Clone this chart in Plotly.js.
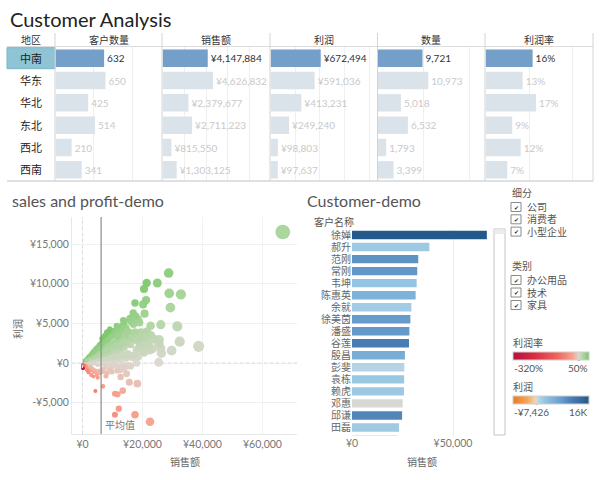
<!DOCTYPE html>
<html><head><meta charset="utf-8">
<script src="https://cdn.plot.ly/plotly-3.0.1.min.js"></script>
<style>html,body{margin:0;padding:0;background:#fff}#chart{width:600px;height:480px}</style>
</head><body><div id="chart"></div>
<script>
// ---------------- Table data ----------------
const tableHeaders = ['地区','客户数量','销售额','利润','数量','利润率'];
const regions = ['中南','华东','华北','东北','西北','西南'];
const customerCount = [632,650,425,514,210,341];
const salesByRegion = [4147884,4626832,2379677,2711223,815550,1303125];
const profitByRegion = [672494,591036,413231,249240,98803,97637];
const quantityByRegion = [9721,10973,5018,6532,1793,3399];
const selectedRegion = '中南';

// ---------------- Scatter: one point per customer [sales, profit] ----------------
const customerPoints = [
 [66750,16540],[28700,11360],[21400,10100],[24950,10100],[28900,8800],[32800,8670],[20500,9340],[21200,7950],
 [17500,7580],[20200,7400],[29300,6990],[20700,6230],[16900,6310],[15800,5640],[16300,5220],[26100,4840],
 [31600,4630],[22700,4710],[13600,5390],[11400,4710],[32400,2690],[38700,2100],[29700,1560],[26100,1850],
 [25600,2950],[23400,1810],[26300,1220],[25400,84],[18000,0],[15300,-290],[12700,-880],[11600,-970],
 [14700,-1350],[12700,-1770],[15600,-2440],[18300,-2610],[7800,-1640],[5100,-1850],[6800,-2950],[10800,-3870],
 [11700,-3960],[13400,-3490],[4300,-3540],[12100,-5770],[10800,-6520],[17500,-6520],[22500,-7410],
 [18500,5500],[17800,5900],[19000,5100],[17000,4900],[14500,4500],[19500,3900],[21500,4000],[20500,3800],
 [22800,3500],[18500,3700],[16000,3800],[17500,3900],[15000,4100],[12800,4300],[13500,4800],[12000,4400],[14000,5200],
 [24000,3000],[25500,2500],[22000,2500],[21000,2000],[19500,2200],[20500,1300],[22500,1600],[18500,800],
 [16500,700],[14500,600],[12500,400],[10500,300],[9000,100],[7500,50],[16000,-400],[13500,-200],[11000,-100],
 [20000,2800],[21000,3200],[18000,3200],[16500,3100],[15000,3300],[13500,3000],[12000,2900],[11000,2700],
 [1000,100],[1500,150],[2000,250],[2500,300],[3000,350],[3500,400],[4000,500],[4500,600],[5000,650],[5500,750],
 [6000,800],[6500,900],[7000,950],[7500,1000],[8000,1100],[8500,1150],[9000,1250],[9500,1300],[10000,1400],
 [10500,1200],[11000,1500],[11500,1000],[12000,1600],[12500,900],[13000,1800],[13500,1100],[14000,2000],
 [15000,1200],[16000,2300],[17000,1000],[18000,1700],[19000,2100],[20000,1500],[21000,2300],[22000,2000],
 [1200,-50],[2000,-100],[3000,-150],[4000,-100],[5000,-250],[6000,-200],[7000,-150],[8000,-300],[9000,-200],
 [10000,-400],[11000,-250],[12500,-500],[14000,-600],
 [800,200],[1200,300],[1800,450],[2300,600],[2700,700],[3300,850],[3700,900],[4100,1050],[4600,1150],[5100,1300],
 [5500,1400],[6100,1500],[6500,1700],[7100,1800],[7600,1900],[8100,2000],[8600,2100],[9100,2300],[9600,2400],
 [10200,2500],[10800,2600],[11300,2800],[11900,3000],[12500,3100],[13100,3200],[13700,3300],[14200,3000],
 [15200,3500],[16100,3200],[17100,3100],[18100,2800],[19100,3300],
 [600,250],[900,380],[1300,520],[1700,700],[2100,880],[2600,1050],[3100,1300],[3400,1450],[3800,1600],[4300,1850],
 [4700,2000],[5300,2250],[5700,2400],[6200,2600],[6600,2750],[7100,2950],[7700,3150],[8200,3350],[8700,3450],
 [9300,3800],[9700,3950],[10300,4100],[10800,3900],[11200,4200],[11800,4000],[12300,3800],[12600,4600],
 [13200,4100],[13800,4400],[14300,3600],[14800,4000],[6300,3100],[6900,3300],[7400,3500],[8000,3900],[8600,4000],[9100,4300],
 [1100,420],[1600,520],[1900,760],[2400,820],[2800,1150],[3200,1050],[3600,1250],[3900,1400],[4400,1500],[4900,1750],
 [5400,1850],[5900,2050],[6400,2200],[6800,2400],[7300,2500],[7800,2700],[8300,2850],[8800,3000],[9400,3200],
 [9900,3400],[10500,3500],[11100,3600],[11600,3400],[12100,3500],
 [1400,300],[2200,450],[2900,500],[3400,650],[3900,700],[4400,850],[4900,950],[5400,1050],[5900,1100],[6400,1250],
 [6900,1350],[7400,1450],[7900,1550],[8400,1650],[8900,1700],[9400,1850],[9900,1950],[10400,2000],[10900,2100],
 [11400,2200],[11900,2300],[12400,2200],[12900,2400],[13400,2500],[14600,2600],
 [2600,100],[3800,200],[4800,250],[5800,350],[6800,400],[7800,500],[8800,600],[9800,700],[10800,800],[11800,700],
 [13800,900],[15800,1000],
 [400,-120],[700,-250],[1000,-350],[1400,-450],[1800,-600],[2200,-750],[2600,-500],[3000,-950],[3400,-700],
 [3800,-1150],[4200,-900],[4600,-1250],[5200,-1000],[5800,-1300],[6300,-800],[6800,-1100],[7300,-700],
 [8200,-1250],[9000,-850],[9800,-1100],[2000,-1200],[2900,-1500],[3600,-1700],[4800,-1600],[1500,-900],
 [150,-250],[250,-400],[200,-650],[350,-300]
];
const avgSales = 6200;
const scXTickVals = [0,20000,40000,60000];
const scXTickText = ['¥0','¥20,000','¥40,000','¥60,000'];
const scYTickVals = [-5000,0,5000,10000,15000];
const scYTickText = ['-¥5,000','¥0','¥5,000','¥10,000','¥15,000'];

// ---------------- Customer bars ----------------
const customerNames = ['徐婵','郝升','范刚','常刚','韦坤','陈惠英','余就','徐美茵','潘盛','谷莲','殷昌','彭斐','袁栋','赖虎','邓惠','邱谦','田磊','白鹏'];
const customerSales = [66750,38300,32800,32300,32000,31500,29400,28900,28400,28200,26200,25900,25800,25700,25100,24800,23300,22600];
const customerProfit = [16540,2100,8670,8300,2690,5000,1850,7800,8000,11360,5600,800,2300,2200,84,10100,2000,1800];
const barXTickVals = [0,50000];
const barXTickText = ['¥0','¥50,000'];

// ---------------- Filters / legends ----------------
const segments = ['公司','消费者','小型企业'];
const productCategories = ['办公用品','技术','家具'];
const rateRange = [-3.2, 0.5];
const rateRangeLabels = ['-320%','50%'];
const profitRange = [-7426, 16540];
const profitRangeLabels = ['-¥7,426','16K'];

// ---------------- helpers ----------------
const F = "Lato, 'Noto Sans CJK SC', sans-serif";
const X = p => p/600;
const Y = p => 1 - p/480;

const rateScale = [[0,'#b5113f'],[0.3,'#dc2e42'],[0.6,'#f06a5f'],[0.78,'#f7a08b'],[0.865,'#dbd7cf'],[0.93,'#a8d49a'],[1,'#78c766']];
const profitScale = [[0,'#ea7a1e'],[0.18,'#f5a257'],[0.29,'#f4d2ae'],[0.31,'#dcd9d0'],[0.33,'#bcd6e6'],[0.42,'#94c4e1'],[0.6,'#6ea3d0'],[0.75,'#4e82b8'],[1,'#24598b']];

const traces = [];
const layout = {
  width:600, height:480, margin:{l:0,r:0,t:0,b:0},
  paper_bgcolor:'#fff', plot_bgcolor:'rgba(0,0,0,0)',
  font:{family:F, color:'#555', size:10},
  showlegend:false, shapes:[], annotations:[]
};
const ann = (text, x, y, o={}) => layout.annotations.push(Object.assign({
  text, x, y, xref:'paper', yref:'paper', showarrow:false, xanchor:'left', yanchor:'middle',
  font:{family:F, size:10, color:'#555'}}, o));
const line = (x0,y0,x1,y1,color,w=1,dash='solid') => layout.shapes.push({type:'line',xref:'paper',yref:'paper',
  x0:X(x0),y0:Y(y0),x1:X(x1),y1:Y(y1),line:{color,width:w,dash}});

// ---------------- Title ----------------
ann('Customer Analysis', X(8), Y(19), {font:{family:F,size:20,color:'#222'}});

// ---------------- Table ----------------
const colEdges = [7,55,162,270,377.5,485,593];
const rateByRegion = profitByRegion.map((p,i)=>p/salesByRegion[i]);
const tableCols = [
  {vals:customerCount, tmpl:'%{x}', dtick:500},
  {vals:salesByRegion, tmpl:'¥%{x:,}', dtick:2000000},
  {vals:profitByRegion, tmpl:'¥%{x:,}', dtick:330000},
  {vals:quantityByRegion, tmpl:'%{x:,}', dtick:10000},
  {vals:rateByRegion, tmpl:'%{x:.0%}', dtick:0.15}
];
const isSel = regions.map(r => r === selectedRegion);
layout.yaxis = {domain:[Y(181),Y(47)], type:'category', autorange:'reversed', showticklabels:false,
  showgrid:false, zeroline:false, anchor:'x', ticks:''};
tableCols.forEach((c,i) => {
  const ax = i===0 ? 'xaxis' : 'xaxis'+(i+1);
  const xa = i===0 ? 'x' : 'x'+(i+1);
  layout[ax] = {domain:[X(colEdges[i+1]+0.5), X(colEdges[i+2])], range:[0, Math.max(...c.vals)*2.13],
    anchor:'y', showticklabels:false, ticks:'', showgrid:true, gridcolor:'#efefef', dtick:c.dtick,
    zeroline:false, showline:false, fixedrange:true};
  traces.push({type:'bar', orientation:'h', x:c.vals, y:regions, xaxis:xa, yaxis:'y', width:0.78,
    marker:{color:isSel.map(s => s ? '#739fc8' : '#dbe3ea'), line:{width:0}},
    texttemplate:c.tmpl, textposition:'outside', cliponaxis:false, constraintext:'none',
    textfont:{family:F, size:10, color:isSel.map(s => s ? '#333' : '#c9c9c9')}, hoverinfo:'skip'});
  ann(tableHeaders[i+1], X((colEdges[i+1]+colEdges[i+2])/2), Y(40), {xanchor:'center', font:{family:F,size:10,color:'#333'}});
});
ann(tableHeaders[0], X((colEdges[0]+colEdges[1])/2), Y(40), {xanchor:'center', font:{family:F,size:10,color:'#333'}});
// selected region cell
const selIdx = regions.indexOf(selectedRegion);
layout.shapes.push({type:'rect', xref:'paper', yref:'y', x0:X(7), x1:X(55), y0:selIdx-0.47, y1:selIdx+0.47,
  fillcolor:'#8fc4d4', line:{color:'#7ab6c9', width:1}, layer:'below'});
regions.forEach(r => layout.annotations.push({text:r, x:X(31), y:r, xref:'paper', yref:'y', showarrow:false,
  xanchor:'center', yanchor:'middle', font:{family:F, size:11, color:'#222'}}));
line(7,46.5,593,46.5,'#dcdcdc',1);
line(7,181,593,181,'#d6d6d6',1.5);
colEdges.slice(1).forEach(e => line(e,33,e,181,'#d4d4d4',1));

// ---------------- Scatter ----------------
const scSales = customerPoints.map(p=>p[0]);
const scProfit = customerPoints.map(p=>p[1]);
const scRate = customerPoints.map(p=>p[1]/p[0]);
ann('sales and profit-demo', X(10), Y(201), {font:{family:F,size:16,color:'#555'}});
layout.xaxis6 = {domain:[X(72),X(297)], range:[-3500,71500], anchor:'y2', tickvals:scXTickVals, ticktext:scXTickText,
  tickfont:{family:F,size:10.5,color:'#777'}, ticks:'', showgrid:true, gridcolor:'#f2f2f2', zeroline:false,
  showline:true, linecolor:'#e8e8e8', fixedrange:true};
layout.yaxis2 = {domain:[Y(434),Y(217)], range:[-8965,18434], anchor:'x6', tickvals:scYTickVals, ticktext:scYTickText,
  tickfont:{family:F,size:10.5,color:'#777'}, ticks:'', showgrid:true, gridcolor:'#f0f0f0', zeroline:false,
  showline:true, linecolor:'#e8e8e8', fixedrange:true};
traces.push({type:'scatter', mode:'markers', x:scSales, y:scProfit, xaxis:'x6', yaxis:'y2', hoverinfo:'skip',
  marker:{size:scSales, sizemode:'area', sizeref:620, sizemin:2, color:scRate, cmin:rateRange[0], cmax:rateRange[1],
    colorscale:rateScale, opacity:0.95, line:{width:0}, showscale:true,
    colorbar:{orientation:'h', x:X(513), xanchor:'left', y:Y(351.5), yanchor:'top', len:76, lenmode:'pixels',
      thickness:8, thicknessmode:'pixels', xpad:0, ypad:0, outlinewidth:1, outlinecolor:'#d0d0d0',
      showticklabels:false, ticks:'', title:{text:''}}}});
layout.shapes.push({type:'line', xref:'x6', yref:'y2 domain', x0:0, x1:0, y0:0, y1:1, line:{color:'#dadada', width:1, dash:'dot'}});
layout.shapes.push({type:'line', xref:'x6 domain', yref:'y2', x0:0, x1:1, y0:0, y1:0, line:{color:'#dadada', width:1, dash:'dot'}});
layout.shapes.push({type:'line', xref:'x6', yref:'y2 domain', x0:avgSales, x1:avgSales, y0:0, y1:1, line:{color:'#8c8c8c', width:1.2}});
layout.annotations.push({text:'平均值', x:avgSales, y:0, xref:'x6', yref:'y2 domain', xanchor:'left', yanchor:'bottom',
  xshift:2, yshift:1, showarrow:false, font:{family:F,size:10,color:'#777'}});
ann('销售额', X(185), Y(462), {xanchor:'center', font:{family:F,size:10,color:'#666'}});
ann('利润', X(18), Y(329), {xanchor:'center', textangle:-90, font:{family:F,size:10,color:'#666'}});

// ---------------- Customer bar chart ----------------
ann('Customer-demo', X(305), Y(201), {font:{family:F,size:16,color:'#555'}});
ann('客户名称', X(312), Y(222), {font:{family:F,size:10,color:'#555'}});
layout.xaxis7 = {domain:[X(352),X(492)], range:[0,69300], anchor:'y3', tickvals:barXTickVals, ticktext:barXTickText,
  tickfont:{family:F,size:10.5,color:'#777'}, ticks:'', showgrid:true, gridcolor:'#ececec', zeroline:false, fixedrange:true};
layout.yaxis3 = {domain:[Y(435.5),Y(230)], type:'category', range:[16.67,-0.42], anchor:'x7',
  tickfont:{family:F,size:10,color:'#666'}, ticks:'', showgrid:false, zeroline:false, fixedrange:true};
traces.push({type:'bar', orientation:'h', x:customerSales, y:customerNames, xaxis:'x7', yaxis:'y3', width:0.7, hoverinfo:'skip',
  marker:{color:customerProfit, cmin:profitRange[0], cmax:profitRange[1], colorscale:profitScale, line:{width:0}, showscale:true,
    colorbar:{orientation:'h', x:X(513), xanchor:'left', y:Y(395.5), yanchor:'top', len:76, lenmode:'pixels',
      thickness:8, thicknessmode:'pixels', xpad:0, ypad:0, outlinewidth:1, outlinecolor:'#d0d0d0',
      showticklabels:false, ticks:'', title:{text:''}}}});
ann('销售额', X(422), Y(462), {xanchor:'center', font:{family:F,size:10,color:'#666'}});
// scroll bar
layout.shapes.push({type:'rect', xref:'paper', yref:'paper', x0:X(494), x1:X(505), y0:Y(435), y1:Y(229), fillcolor:'#fff', line:{color:'#c4c4c4', width:1}});
layout.shapes.push({type:'rect', xref:'paper', yref:'paper', x0:X(494.5), x1:X(504.5), y0:Y(234), y1:Y(229.5), fillcolor:'#ececec', line:{width:0}});

// ---------------- Filter legends ----------------
ann('细分', X(510), Y(193), {font:{family:F,size:10,color:'#555'}});
segments.forEach((s,i) => {
  const cy = 207 + i*12.3;
  layout.shapes.push({type:'rect', xref:'paper', yref:'paper', x0:X(511), x1:X(521), y0:Y(cy+4.5), y1:Y(cy-4.5), fillcolor:'#fff', line:{color:'#8a8a8a', width:1}});
  ann('✔', X(516), Y(cy), {xanchor:'center', font:{family:'DejaVu Sans',size:6,color:'#333'}});
  ann(s, X(525), Y(cy), {font:{family:F,size:10,color:'#555'}});
});
ann('类别', X(510), Y(266), {font:{family:F,size:10,color:'#555'}});
productCategories.forEach((s,i) => {
  const cy = 280 + i*12.5;
  layout.shapes.push({type:'rect', xref:'paper', yref:'paper', x0:X(511), x1:X(521), y0:Y(cy+4.5), y1:Y(cy-4.5), fillcolor:'#fff', line:{color:'#8a8a8a', width:1}});
  ann('✔', X(516), Y(cy), {xanchor:'center', font:{family:'DejaVu Sans',size:6,color:'#333'}});
  ann(s, X(525), Y(cy), {font:{family:F,size:10,color:'#555'}});
});
ann('利润率', X(511), Y(343), {font:{family:F,size:10,color:'#555'}});
ann(rateRangeLabels[0], X(512), Y(367.5), {font:{family:F,size:10,color:'#555'}});
ann(rateRangeLabels[1], X(590), Y(367.5), {xanchor:'right', font:{family:F,size:10,color:'#555'}});
ann('利润', X(511), Y(387), {font:{family:F,size:10,color:'#555'}});
ann(profitRangeLabels[0], X(512), Y(411.5), {font:{family:F,size:10,color:'#555'}});
ann(profitRangeLabels[1], X(590), Y(411.5), {xanchor:'right', font:{family:F,size:10,color:'#555'}});
// zero markers on gradients
const zr = 513 + (0-rateRange[0])/(rateRange[1]-rateRange[0])*76;
const zp = 513 + (0-profitRange[0])/(profitRange[1]-profitRange[0])*76;
layout.shapes.push({type:'rect', xref:'paper', yref:'paper', x0:X(zr-1), x1:X(zr+1), y0:Y(360.5), y1:Y(358.5), fillcolor:'#555', line:{width:0}});
layout.shapes.push({type:'rect', xref:'paper', yref:'paper', x0:X(zp-1), x1:X(zp+1), y0:Y(404.5), y1:Y(402.5), fillcolor:'#555', line:{width:0}});

Plotly.newPlot('chart', traces, layout, {staticPlot:true, displayModeBar:false});
</script></body></html>
